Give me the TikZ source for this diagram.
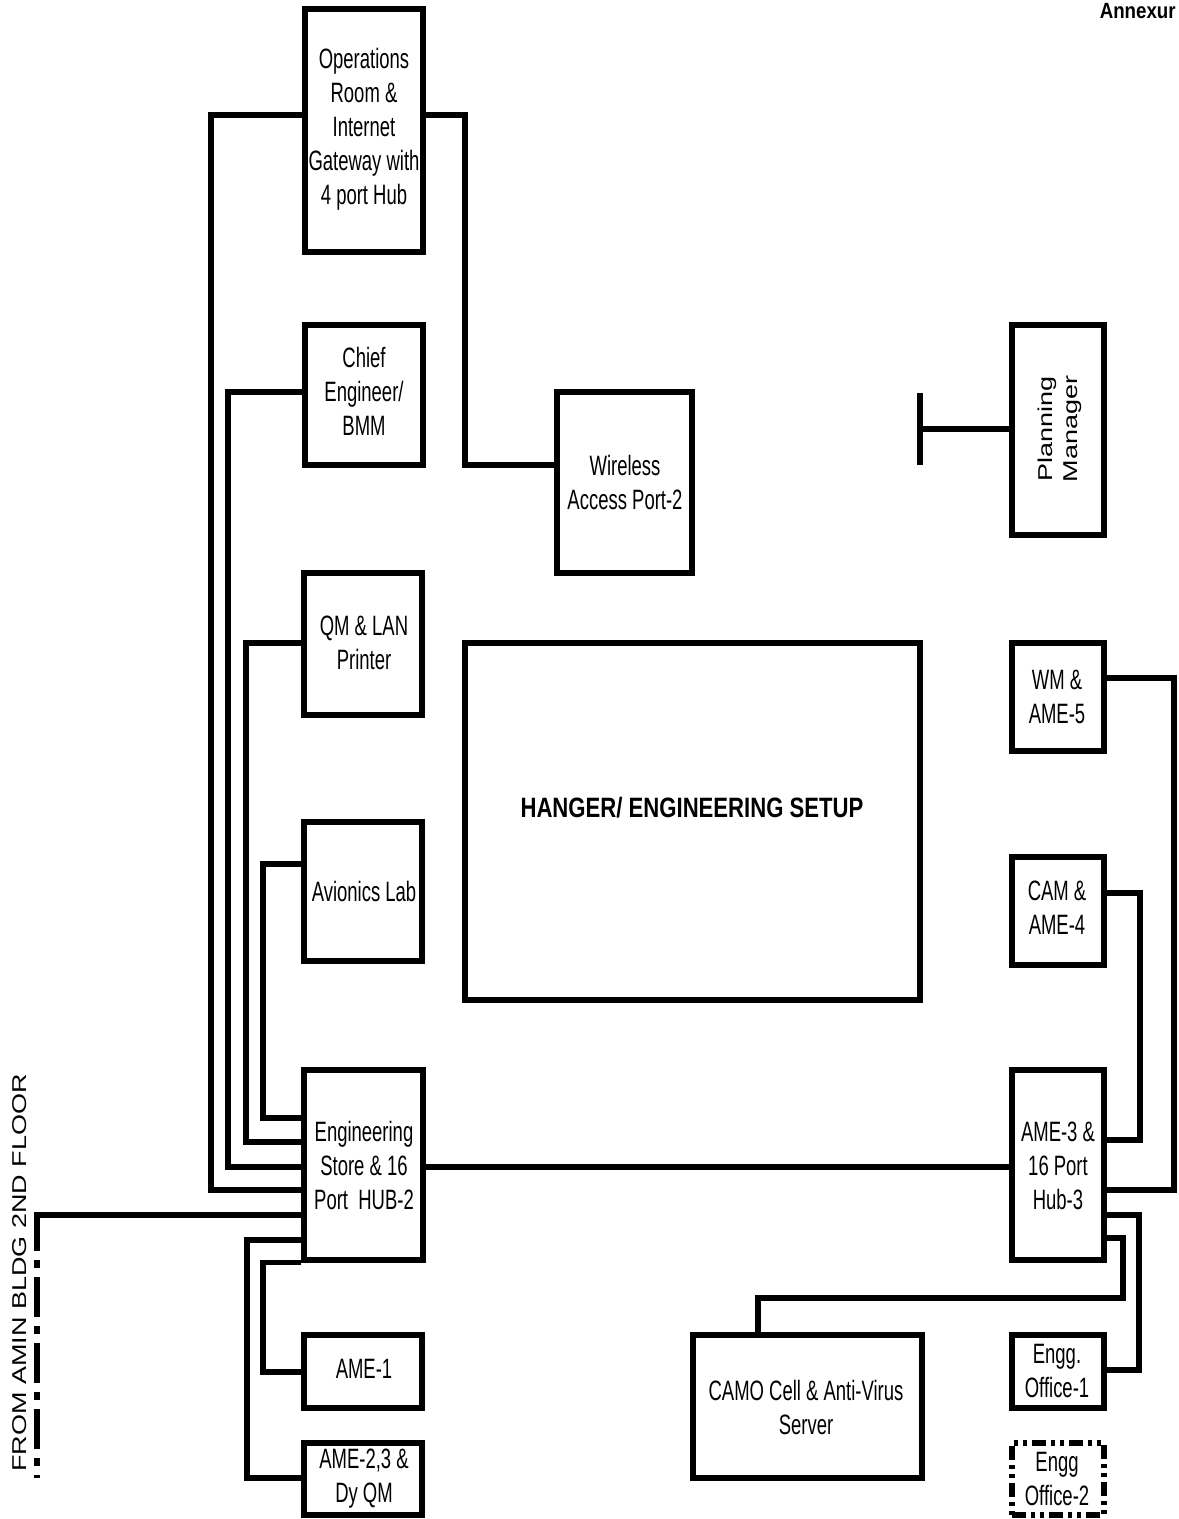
\documentclass[tikz,border=0pt]{standalone}
\usepackage{fontspec}
\setmainfont{Liberation Sans}[FakeStretch=0.66]
\newfontfamily\titlefont{Liberation Sans}[FakeStretch=0.79]
\newfontfamily\annexfont{Liberation Sans}[FakeStretch=0.85]
\newfontfamily\widefont{Liberation Sans}[FakeStretch=1.35]
\usetikzlibrary{fit}
\tikzset{
  box/.style={draw, line width=2.6pt, inner sep=0pt},
  wire/.style={line width=2.6pt},
  lbl/.style={align=center, inner sep=0pt, font=\fontsize{14}{17}\selectfont},
  dashdotdot/.style={dash pattern=on 7pt off 2.5pt on 2pt off 2.5pt on 2pt off 2.5pt},
  dashdot/.style={dash pattern=on 20pt off 4.5pt on 4pt off 4.5pt, dash phase=11pt}
}
\begin{document}
\begin{tikzpicture}[x=0.5pt,y=-0.5pt]
\useasboundingbox (0,0) rectangle (1178,1519);

% boxes
\node[box, fit={(305,9) (423,252)}] (ops) {};
\node[box, fit={(305,325) (423,465)}] (chief) {};
\node[box, fit={(557,392) (692,573)}] (wifi) {};
\node[box, fit={(1012,325) (1104,535)}] (plan) {};
\node[box, fit={(304,573) (422,715)}] (qm) {};
\node[box, fit={(465,643) (920,1000)}] (hangar) {};
\node[box, fit={(1012,643) (1104,751)}] (wm) {};
\node[box, fit={(304,822) (422,961)}] (avi) {};
\node[box, fit={(1012,857) (1104,965)}] (cam) {};
\node[box, fit={(304,1070) (423,1260)}] (store) {};
\node[box, fit={(1012,1070) (1104,1260)}] (hub) {};
\node[box, fit={(304,1335) (422,1408)}] (ame1) {};
\node[box, fit={(304,1443) (422,1515)}] (ame2) {};
\node[box, fit={(693,1335) (922,1478)}] (camo) {};
\node[box, fit={(1012,1335) (1104,1408)}] (eo1) {};
\node[box, dashdotdot, fit={(1012,1443) (1104,1515)}] (eo2) {};

% labels
\node[lbl] (opst) at (364,129) {Operations\\Room \&\\Internet\\Gateway with\\4 port Hub};
\node[lbl] (chieft) at (364,391) {Chief\\Engineer/\\BMM};
\node[lbl] (wifit) at (625,482) {Wireless\\Access Port-2};
\node[rotate=90, align=center, inner sep=0pt, font=\widefont\fontsize{10}{12.5}\selectfont] (plant) at (1060,429) {Planning\\Manager};
\node[lbl] (qmt) at (364,643) {QM \& LAN\\Printer};
\node[inner sep=0pt, font=\titlefont\bfseries\fontsize{14}{16}\selectfont] (hangart) at (692,808) {HANGER/ ENGINEERING SETUP};
\node[lbl] (wmt) at (1057,697) {WM \&\\AME-5};
\node[lbl] (avit) at (364,891) {Avionics Lab};
\node[lbl] (camt) at (1057,908) {CAM \&\\AME-4};
\node[lbl] (storet) at (364,1165) {Engineering\\Store \& 16\\Port\ \ HUB-2};
\node[lbl] (hubt) at (1058,1166) {AME-3 \&\\16 Port\\Hub-3};
\node[lbl] (ame1t) at (364,1369) {AME-1};
\node[lbl] (ame2t) at (364,1479) {AME-2,3 \&\\Dy QM};
\node[lbl] (camot) at (806,1407) {CAMO Cell \& Anti-Virus\\Server};
\node[lbl] (eo1t) at (1057,1371) {Engg.\\Office-1};
\node[lbl] (eo2t) at (1057,1479) {Engg\\Office-2};
\node[anchor=north east, inner sep=0pt, font=\annexfont\bfseries\fontsize{11}{13}\selectfont] (annex) at (1176,3) {Annexur};
\node[rotate=90, inner sep=0pt, font=\widefont\fontsize{10}{12}\selectfont] (from) at (20,1273) {FROM AMIN BLDG 2ND FLOOR};

% left side connectors
\draw[wire] (ops.west |- 0,115) -| (211,1190) -- (store.west |- 0,1190);
\draw[wire] (ops.east |- 0,115) -| (465,465) -- (wifi.west |- 0,465);
\draw[wire] (chief.west |- 0,392) -| (228,1167) -- (store.west |- 0,1167);
\draw[wire] (qm.west |- 0,643) -| (246,1142) -- (store.west |- 0,1142);
\draw[wire] (avi.west |- 0,864) -| (263,1118) -- (store.west |- 0,1118);
\draw[wire] (store.east |- 0,1167) -- (hub.west |- 0,1167);
\coordinate (amin) at (37,1478);
\draw[wire] (store.west |- 0,1215) -- (37,1215) -- (37,1233);
\draw[wire, dashdot] (37,1233) -- (amin);
\draw[wire] (store.west |- 0,1240) -| (247,1478) -- (ame2.west |- 0,1478);
\draw[wire] (store.south west) -| (263,1372) -- (ame1.west |- 0,1372);

% right side connectors
\draw[wire] (wm.east |- 0,678) -| (1174,1190) -- (hub.east |- 0,1190);
\draw[wire] (cam.east |- 0,893) -| (1140,1140) -- (hub.east |- 0,1140);
\draw[wire] (hub.east |- 0,1215) -| (1139,1370) -- (eo1.east |- 0,1370);
\draw[wire] (hub.east |- 0,1238) -| (1123,1298) -| (camo.north -| 758,0);
\coordinate (tbar) at (920,429);
\draw[wire] (plan.west |- tbar) -- (tbar);
\draw[wire] (920,393) -- (920,465);
\end{tikzpicture}
\end{document}
